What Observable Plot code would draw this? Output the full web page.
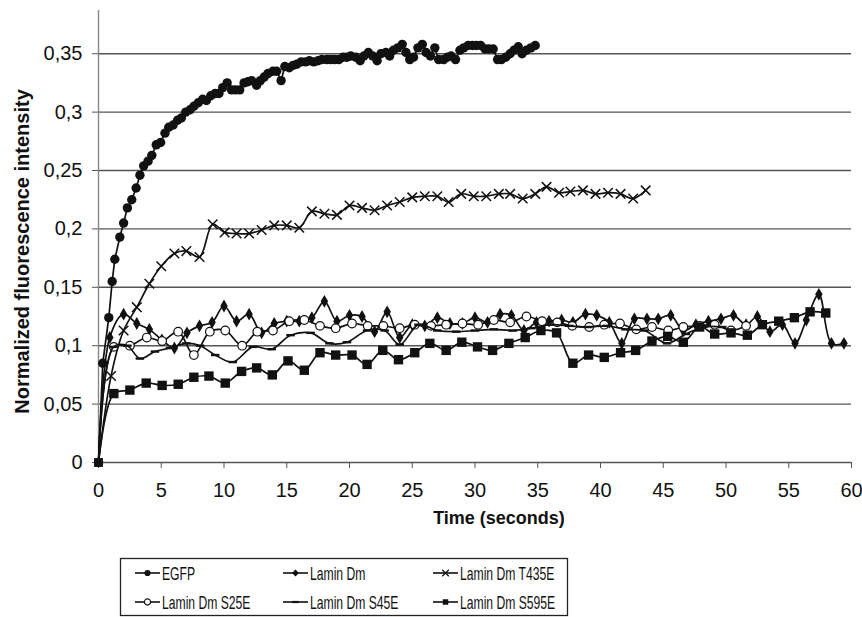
<!DOCTYPE html>
<html>
<head>
<meta charset="utf-8">
<script src="https://cdn.jsdelivr.net/npm/d3@7"></script>
<script src="https://cdn.jsdelivr.net/npm/@observablehq/plot@0.6"></script>
<style>
  body { margin: 0; background: #fff; }
  #chart svg { display: block; }
</style>
</head>
<body>
<div id="chart"></div>
<script>
// ---------- data ----------
const seriesNames = ["EGFP", "Lamin Dm", "Lamin Dm T435E", "Lamin Dm S25E", "Lamin Dm S45E", "Lamin Dm S595E"];

const egfpT = [0, 0.34, 0.82, 1.09, 1.3, 1.7, 2.0, 2.3, 2.65, 3.0, 3.3, 3.6, 3.95, 4.25, 4.6, 4.95, 5.3, 5.6, 5.95, 6.3,
  6.6, 6.95, 7.3, 7.6, 7.95, 8.3, 8.6, 8.95, 9.3, 9.6, 9.9, 10.25, 10.6, 10.9, 11.25, 11.6, 11.9, 12.2, 12.6, 12.9,
  13.2, 13.5, 13.9, 14.2, 14.55, 14.85, 15.2, 15.5, 15.8, 16.15, 16.5, 16.8, 17.15, 17.5, 17.8, 18.2, 18.5, 18.8, 19.15, 19.5,
  19.8, 20.1, 20.5, 20.85, 21.15, 21.5, 21.85, 22.2, 22.5, 22.9, 23.2, 23.5, 23.85, 24.2, 24.5, 24.8, 25.1, 25.45, 25.8, 26.1,
  26.45, 26.8, 27.1, 27.5, 27.8, 28.1, 28.45, 28.8, 29.1, 29.45, 29.8, 30.1, 30.45, 30.8, 31.1, 31.45, 31.8, 32.1, 32.45, 32.8,
  33.1, 33.45, 33.75, 34.1, 34.45, 34.8];
const egfpV = [0, 0.085, 0.124, 0.155, 0.174, 0.193, 0.205, 0.218, 0.225, 0.235, 0.246, 0.254, 0.258, 0.263, 0.272, 0.274, 0.282, 0.287, 0.289, 0.293,
  0.295, 0.300, 0.302, 0.305, 0.308, 0.311, 0.310, 0.314, 0.316, 0.316, 0.321, 0.325, 0.319, 0.319, 0.319, 0.325, 0.326, 0.327, 0.323, 0.327,
  0.330, 0.333, 0.335, 0.335, 0.327, 0.339, 0.338, 0.340, 0.341, 0.343, 0.343, 0.344, 0.343, 0.344, 0.345, 0.345, 0.345, 0.345, 0.345, 0.347,
  0.347, 0.348, 0.347, 0.344, 0.348, 0.351, 0.348, 0.344, 0.350, 0.351, 0.348, 0.353, 0.355, 0.358, 0.351, 0.345, 0.347, 0.355, 0.358, 0.351,
  0.348, 0.355, 0.345, 0.345, 0.347, 0.348, 0.345, 0.353, 0.355, 0.357, 0.357, 0.357, 0.357, 0.354, 0.354, 0.354, 0.345, 0.345, 0.347, 0.350,
  0.353, 0.356, 0.350, 0.353, 0.355, 0.357];

const laminT = [0, 0.9, 2.0, 3.05, 4.05, 5.05, 6.05, 7.05, 8.05, 9.05, 10.0, 11.0, 12.0, 13.0, 14.0, 15.0, 16.0, 17.0, 18.0, 19.0,
  20.0, 21.0, 22.0, 23.0, 24.0, 25.0, 26.0, 27.0, 28.0, 29.0, 30.0, 31.0, 32.0, 32.9, 33.9, 34.9, 35.9, 36.9, 37.8, 38.8,
  39.7, 40.7, 41.7, 42.7, 43.7, 44.6, 45.6, 46.6, 47.6, 48.6, 49.6, 50.6, 51.6, 52.5, 53.5, 54.5, 55.5, 56.4, 57.4, 58.4, 59.4];
const laminV = [0, 0.107, 0.127, 0.119, 0.114, 0.105, 0.098, 0.111, 0.117, 0.120, 0.134, 0.121, 0.127, 0.111, 0.119, 0.121, 0.121, 0.124, 0.138, 0.121,
  0.126, 0.125, 0.112, 0.129, 0.107, 0.118, 0.117, 0.124, 0.119, 0.119, 0.124, 0.120, 0.127, 0.126, 0.113, 0.120, 0.121, 0.122, 0.120, 0.127,
  0.126, 0.120, 0.102, 0.123, 0.123, 0.123, 0.126, 0.113, 0.118, 0.121, 0.123, 0.126, 0.118, 0.125, 0.112, 0.118, 0.102, 0.122, 0.144, 0.102, 0.102];

const t435T = [0, 1.0, 2.0, 3.05, 4.05, 5.0, 6.05, 7.0, 8.05, 9.1, 10.05, 11.0, 12.0, 13.0, 14.0, 15.0, 16.0, 17.0, 18.0, 19.0,
  20.0, 21.0, 22.0, 23.0, 24.0, 25.0, 26.0, 27.0, 27.9, 28.9, 29.9, 30.9, 31.9, 32.8, 33.8, 34.8, 35.7, 36.7, 37.6, 38.6,
  39.6, 40.6, 41.6, 42.6, 43.6];
const t435V = [0, 0.074, 0.113, 0.133, 0.153, 0.168, 0.179, 0.181, 0.176, 0.204, 0.197, 0.196, 0.196, 0.199, 0.203, 0.203, 0.201, 0.215, 0.213, 0.212,
  0.220, 0.218, 0.216, 0.220, 0.223, 0.227, 0.228, 0.228, 0.223, 0.230, 0.228, 0.228, 0.230, 0.230, 0.226, 0.230, 0.236, 0.231, 0.232, 0.233,
  0.230, 0.231, 0.230, 0.226, 0.233];

const s25T = [0, 1.22, 2.5, 3.85, 5.07, 6.35, 7.6, 8.87, 10.1, 11.45, 12.65, 13.9, 15.2, 16.4, 17.65, 18.9, 20.2, 21.45, 22.7, 24.0,
  25.2, 26.5, 27.7, 29.0, 30.25, 31.5, 32.8, 34.1, 35.35, 36.55, 37.75, 39.1, 40.3, 41.55, 42.85, 44.1, 45.4, 46.6, 47.9, 49.1,
  50.4, 51.6];
const s25V = [0, 0.099, 0.100, 0.107, 0.104, 0.112, 0.092, 0.112, 0.113, 0.100, 0.112, 0.113, 0.121, 0.122, 0.117, 0.115, 0.119, 0.117, 0.117, 0.115,
  0.118, 0.117, 0.118, 0.119, 0.118, 0.122, 0.120, 0.125, 0.121, 0.120, 0.117, 0.116, 0.118, 0.119, 0.114, 0.116, 0.113, 0.116, 0.117, 0.118,
  0.113, 0.117];

const s45T = [0, 1.2, 2.3, 3.3, 4.5, 5.7, 7.0, 8.1, 9.3, 10.7, 12.3, 13.8, 15.3, 16.9, 18.4, 19.8, 21.4, 22.8, 24.0, 25.5,
  27.0, 28.5, 30.0, 31.5, 33.0, 34.5, 36.0, 37.5, 39.0, 40.5, 42.0, 43.5, 45.3, 46.8, 48.2, 49.7];
const s45V = [0, 0.099, 0.100, 0.089, 0.095, 0.098, 0.102, 0.100, 0.092, 0.086, 0.099, 0.097, 0.109, 0.111, 0.102, 0.103, 0.113, 0.113, 0.101, 0.118,
  0.113, 0.112, 0.113, 0.114, 0.113, 0.115, 0.118, 0.117, 0.116, 0.117, 0.114, 0.113, 0.102, 0.110, 0.116, 0.116];

const s595T = [0, 1.22, 2.5, 3.8, 5.07, 6.35, 7.6, 8.8, 10.1, 11.4, 12.6, 13.85, 15.1, 16.4, 17.65, 18.9, 20.2, 21.4, 22.65, 23.9,
  25.2, 26.4, 27.7, 28.95, 30.2, 31.4, 32.7, 34.0, 35.25, 36.5, 37.8, 39.05, 40.3, 41.6, 42.8, 44.1, 45.35, 46.6, 47.9, 49.1,
  50.4, 51.7, 52.9, 54.2, 55.45, 56.7, 57.95];
const s595V = [0, 0.059, 0.062, 0.068, 0.066, 0.067, 0.073, 0.074, 0.068, 0.078, 0.081, 0.075, 0.087, 0.079, 0.094, 0.092, 0.092, 0.084, 0.096, 0.088,
  0.094, 0.102, 0.096, 0.103, 0.099, 0.096, 0.102, 0.107, 0.113, 0.111, 0.085, 0.092, 0.090, 0.094, 0.096, 0.104, 0.108, 0.103, 0.116, 0.110,
  0.111, 0.109, 0.118, 0.121, 0.124, 0.129, 0.128];

const xTicks = [0, 5, 10, 15, 20, 25, 30, 35, 40, 45, 50, 55, 60];
const yTicks = [0, 0.05, 0.1, 0.15, 0.2, 0.25, 0.3, 0.35];
const yLabel = "Normalized fluorescence intensity";
const xLabel = "Time (seconds)";

// ---------- build rows ----------
const zip = (name, ts, vs) => ts.map((t, i) => ({series: name, t, v: vs[i]}));
const egfp = zip(seriesNames[0], egfpT, egfpV);
const lamin = zip(seriesNames[1], laminT, laminV);
const t435 = zip(seriesNames[2], t435T, t435V);
const s25 = zip(seriesNames[3], s25T, s25V);
const s45 = zip(seriesNames[4], s45T, s45V);
const s595 = zip(seriesNames[5], s595T, s595V);

const dash = {draw(ctx, size) { const w = Math.sqrt(size) * 0.6; ctx.moveTo(-w, 0); ctx.lineTo(w, 0); }};
const fmt = d => d === 0 ? "0" : String(d).replace(".", ",");
const ink = "#111";
const gridColor = "#555";

const lineOpts = (curve) => ({x: "t", y: "v", stroke: ink, strokeWidth: 1.7, curve});

const plot = Plot.plot({
  width: 862,
  height: 540,
  marginLeft: 98,
  marginRight: 11,
  marginTop: 10,
  marginBottom: 78,
  style: {fontFamily: "'Liberation Sans', Arial, sans-serif", fontSize: "20px", color: "#111", background: "#fff"},
  x: {domain: [0, 60]},
  y: {domain: [0, 0.387]},
  marks: [
    Plot.ruleY(yTicks.filter(d => d > 0), {stroke: gridColor, strokeWidth: 1.4}),
    Plot.ruleX([0], {stroke: "#888", strokeWidth: 1.4}),
    Plot.ruleY([0], {stroke: "#555", strokeWidth: 1.6}),
    Plot.axisY({ticks: yTicks, tickFormat: fmt, tickSize: 6, tickPadding: 10, stroke: gridColor, label: null, fontSize: 20}),
    Plot.axisX({ticks: xTicks, tickFormat: d => String(d), tickSize: 6, tickPadding: 14, stroke: "#555", label: null, fontSize: 20}),
    Plot.text([yLabel], {frameAnchor: "left", textAnchor: "middle", dx: -76, dy: 15, rotate: -90, fontWeight: "bold", fontSize: 20, fill: ink}),
    Plot.text([xLabel], {frameAnchor: "bottom", dx: 24, dy: 61, fontWeight: "bold", fontSize: 18, fill: ink}),

    Plot.line(egfp, lineOpts("linear")),
    Plot.dot(egfp, {x: "t", y: "v", r: 4.7, symbol: "circle", fill: ink, stroke: "none"}),

    Plot.line(lamin, lineOpts("catmull-rom")),
    Plot.dot(lamin.slice(1), {x: "t", y: "v", r: 3.9, symbol: "diamond", fill: ink, stroke: "none"}),

    Plot.line(t435, lineOpts("catmull-rom")),
    Plot.dot(t435.slice(1), {x: "t", y: "v", r: 4.4, symbol: "times", stroke: ink, strokeWidth: 1.5, fill: "none"}),

    Plot.line(s25, lineOpts("catmull-rom")),
    Plot.dot(s25.slice(1), {x: "t", y: "v", r: 4.3, symbol: "circle", fill: "white", stroke: ink, strokeWidth: 1.2}),

    Plot.line(s45, lineOpts("catmull-rom")),
    Plot.dot(s45.slice(1), {x: "t", y: "v", r: 4, symbol: dash, stroke: ink, strokeWidth: 2.4, fill: "none"}),

    Plot.line(s595, lineOpts("catmull-rom")),
    Plot.dot(s595.slice(1), {x: "t", y: "v", r: 5.3, symbol: "square", fill: ink, stroke: "none"}),

    Plot.dot([egfp[0]], {x: "t", y: "v", r: 5, symbol: "square", fill: ink})
  ]
});
document.getElementById("chart").appendChild(plot);

// ---------- legend ----------
const legendSymbols = [
  {sym: d3.symbolCircle, fill: ink, stroke: "none"},
  {sym: d3.symbolDiamond2, fill: ink, stroke: "none"},
  {sym: d3.symbolTimes, fill: "none", stroke: ink},
  {sym: d3.symbolCircle, fill: "white", stroke: ink},
  {sym: dash, fill: "none", stroke: ink, sw: 2.2},
  {sym: d3.symbolSquare, fill: ink, stroke: "none"}
];
const leg = d3.create("svg").attr("width", 862).attr("height", 77)
  .style("font-family", "'Liberation Sans', Arial, sans-serif");
leg.append("rect").attr("x", 120.5).attr("y", 18.5).attr("width", 447).attr("height", 57)
  .attr("fill", "none").attr("stroke", "#222").attr("stroke-width", 1.3);
const colX = [135, 283, 433];
const rowY = [33, 62];
seriesNames.forEach((name, i) => {
  const x0 = colX[i % 3], y0 = rowY[Math.floor(i / 3)];
  const g = leg.append("g");
  g.append("line").attr("x1", x0).attr("x2", x0 + 25).attr("y1", y0).attr("y2", y0)
    .attr("stroke", ink).attr("stroke-width", 1.6);
  const s = legendSymbols[i];
  g.append("path").attr("d", d3.symbol(s.sym, 30)())
    .attr("transform", `translate(${x0 + 12.5},${y0})`)
    .attr("fill", s.fill).attr("stroke", s.stroke).attr("stroke-width", s.sw || 1.2);
  g.append("text").attr("transform", `translate(${x0 + 27},${y0}) scale(0.64,1)`)
    .attr("dy", "0.36em").attr("font-size", 19).attr("fill", ink).text(name);
});
document.getElementById("chart").appendChild(leg.node());
</script>
</body>
</html>
